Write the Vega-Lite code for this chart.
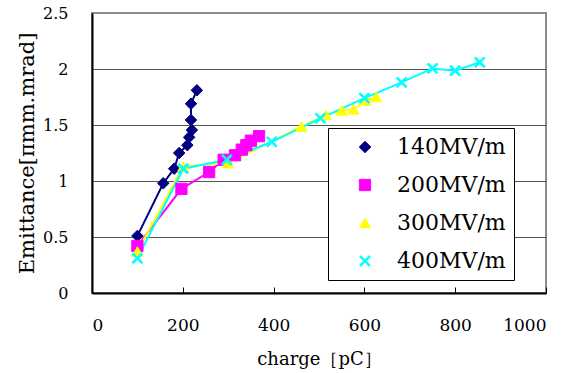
{
  "$schema": "https://vega.github.io/schema/vega-lite/v6.json",
  "width": 454,
  "height": 280,
  "autosize": {"type": "none"},
  "padding": {"left": 92, "top": 13, "right": 33, "bottom": 80},
  "background": "white",
  "config": {
    "view": {"stroke": "#8c8c8c", "strokeWidth": 2},
    "axis": {"labelColor": "black", "titleColor": "black", "titleFontWeight": "normal"}
  },
  "data": {
    "values": [
      {"series": "140MV/m", "i": 1, "charge": 100, "emit": 0.51},
      {"series": "140MV/m", "i": 2, "charge": 157, "emit": 0.98},
      {"series": "140MV/m", "i": 3, "charge": 181, "emit": 1.11},
      {"series": "140MV/m", "i": 4, "charge": 192, "emit": 1.25},
      {"series": "140MV/m", "i": 5, "charge": 210, "emit": 1.32},
      {"series": "140MV/m", "i": 6, "charge": 214, "emit": 1.39},
      {"series": "140MV/m", "i": 7, "charge": 220, "emit": 1.455},
      {"series": "140MV/m", "i": 8, "charge": 218, "emit": 1.545},
      {"series": "140MV/m", "i": 9, "charge": 218, "emit": 1.69},
      {"series": "140MV/m", "i": 10, "charge": 231, "emit": 1.81},
      {"series": "200MV/m", "i": 1, "charge": 100, "emit": 0.42},
      {"series": "200MV/m", "i": 2, "charge": 197, "emit": 0.93},
      {"series": "200MV/m", "i": 3, "charge": 258, "emit": 1.08},
      {"series": "200MV/m", "i": 4, "charge": 290, "emit": 1.19},
      {"series": "200MV/m", "i": 5, "charge": 315, "emit": 1.23},
      {"series": "200MV/m", "i": 6, "charge": 330, "emit": 1.28},
      {"series": "200MV/m", "i": 7, "charge": 340, "emit": 1.32},
      {"series": "200MV/m", "i": 8, "charge": 350, "emit": 1.36},
      {"series": "200MV/m", "i": 9, "charge": 368, "emit": 1.40},
      {"series": "300MV/m", "i": 1, "charge": 100, "emit": 0.37},
      {"series": "300MV/m", "i": 2, "charge": 201, "emit": 1.13},
      {"series": "300MV/m", "i": 3, "charge": 299, "emit": 1.16},
      {"series": "300MV/m", "i": 4, "charge": 461, "emit": 1.485},
      {"series": "300MV/m", "i": 5, "charge": 515, "emit": 1.59},
      {"series": "300MV/m", "i": 6, "charge": 550, "emit": 1.63},
      {"series": "300MV/m", "i": 7, "charge": 576, "emit": 1.64},
      {"series": "300MV/m", "i": 8, "charge": 603, "emit": 1.72},
      {"series": "300MV/m", "i": 9, "charge": 626, "emit": 1.75},
      {"series": "400MV/m", "i": 1, "charge": 100, "emit": 0.31},
      {"series": "400MV/m", "i": 2, "charge": 201, "emit": 1.11},
      {"series": "400MV/m", "i": 3, "charge": 297, "emit": 1.19},
      {"series": "400MV/m", "i": 4, "charge": 396, "emit": 1.35},
      {"series": "400MV/m", "i": 5, "charge": 503, "emit": 1.56},
      {"series": "400MV/m", "i": 6, "charge": 600, "emit": 1.74},
      {"series": "400MV/m", "i": 7, "charge": 682, "emit": 1.88},
      {"series": "400MV/m", "i": 8, "charge": 750, "emit": 2.005},
      {"series": "400MV/m", "i": 9, "charge": 800, "emit": 1.985},
      {"series": "400MV/m", "i": 10, "charge": 854, "emit": 2.06}
    ]
  },
  "encoding": {
    "x": {
      "field": "charge", "type": "quantitative",
      "scale": {"domain": [0, 1000], "nice": false},
      "axis": {
        "values": [0, 200, 400, 600, 800, 1000],
        "format": "d",
        "grid": false,
        "domainColor": "black", "domainWidth": 2,
        "tickColor": "black", "tickWidth": 1, "tickSize": -6,
        "labelFont": "DejaVu Serif", "labelFontSize": 17,
        "labelPadding": 30, "labelBaseline": "top",
        "title": "charge［pC］",
        "titleFont": "DejaVu Serif", "titleFontSize": 18,
        "titleX": 227, "titleY": 66, "titleBaseline": "middle", "titleAlign": "center"
      }
    },
    "y": {
      "field": "emit", "type": "quantitative",
      "scale": {"domain": [0, 2.5], "nice": false},
      "axis": {
        "values": [0, 0.5, 1, 1.5, 2, 2.5],
        "format": "~g",
        "grid": true,
        "gridColor": {"condition": {"test": "datum.value == 2.5", "value": "#8c8c8c"}, "value": "#555555"},
        "gridWidth": 1,
        "domainColor": "black", "domainWidth": 2,
        "ticks": false, "tickSize": 0,
        "labelFont": "DejaVu Serif", "labelFontSize": 16,
        "labelPadding": 24,
        "title": "Emittance[πmm.mrad]",
        "titleFont": "DejaVu Serif", "titleFontSize": 21,
        "titleAngle": -90, "titleX": -65, "titleY": 140,
        "titleBaseline": "middle", "titleAlign": "center"
      }
    }
  },
  "layer": [
    {
      "mark": {"type": "line", "strokeWidth": 2},
      "encoding": {
        "order": {"field": "i", "type": "quantitative"},
        "color": {
          "field": "series", "type": "nominal",
          "scale": {"domain": ["140MV/m", "200MV/m", "300MV/m", "400MV/m"], "range": ["#000080", "#ff00ff", "#ffff00", "#00ffff"]},
          "legend": {
            "orient": "none", "legendX": 236, "legendY": 115,
            "title": null,
            "fillColor": "white", "strokeColor": "black",
            "padding": 8,
            "symbolSize": 144,
            "symbolStrokeWidth": 1,
            "symbolOffset": 18,
            "labelOffset": 21,
            "rowPadding": 16,
            "labelFont": "DejaVu Serif", "labelFontSize": 22, "labelColor": "black",
            "labelLimit": 300
          }
        }
      }
    },
    {
      "mark": {"type": "point", "filled": true, "opacity": 1, "strokeWidth": 1},
      "encoding": {
        "color": {"field": "series", "type": "nominal"},
        "stroke": {
          "field": "series", "type": "nominal",
          "scale": {"domain": ["140MV/m", "200MV/m", "300MV/m", "400MV/m"], "range": ["#000080", "#ff00ff", "#ffff00", "#00ffff"]},
          "legend": null
        },
        "shape": {
          "field": "series", "type": "nominal",
          "scale": {"domain": ["140MV/m", "200MV/m", "300MV/m", "400MV/m"], "range": ["diamond", "square", "triangle-up", "M-1,-0.75L-0.75,-1L0,-0.25L0.75,-1L1,-0.75L0.25,0L1,0.75L0.75,1L0,0.25L-0.75,1L-1,0.75L-0.25,0Z"]},
          "legend": null
        },
        "size": {
          "field": "series", "type": "nominal",
          "scale": {"domain": ["140MV/m", "200MV/m", "300MV/m", "400MV/m"], "range": [132, 115, 144, 110]},
          "legend": null
        }
      }
    }
  ]
}
